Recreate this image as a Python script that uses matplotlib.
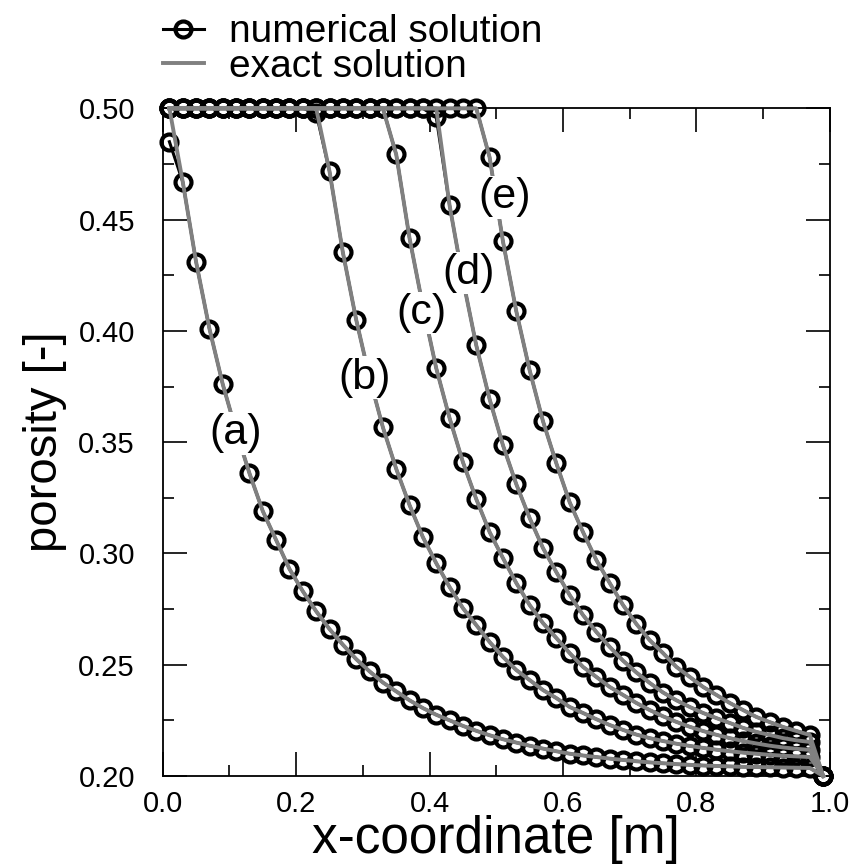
import matplotlib
matplotlib.use("Agg")
import matplotlib.pyplot as plt
from matplotlib.lines import Line2D
from matplotlib.ticker import MultipleLocator

plt.rcParams['font.family'] = ['Liberation Sans', 'DejaVu Sans']

## DATA

x_nodes = [0.01, 0.03, 0.05, 0.07, 0.09, 0.11, 0.13, 0.15, 0.17, 0.19,
           0.21, 0.23, 0.25, 0.27, 0.29, 0.31, 0.33, 0.35, 0.37, 0.39,
           0.41, 0.43, 0.45, 0.47, 0.49, 0.51, 0.53, 0.55, 0.57, 0.59,
           0.61, 0.63, 0.65, 0.67, 0.69, 0.71, 0.73, 0.75, 0.77, 0.79,
           0.81, 0.83, 0.85, 0.87, 0.89, 0.91, 0.93, 0.95, 0.97, 0.99]

num_a = [0.485, 0.467, 0.431, 0.401, 0.376, 0.355, 0.336, 0.319, 0.306, 0.293,
         0.283, 0.274, 0.266, 0.259, 0.2525, 0.247, 0.242, 0.238, 0.234, 0.2305,
         0.2275, 0.2250, 0.2225, 0.2203, 0.2183, 0.2165, 0.2150, 0.2136, 0.2123, 0.2111,
         0.2100, 0.2092, 0.2085, 0.2078, 0.2072, 0.2066, 0.2061, 0.2057, 0.2053, 0.2050,
         0.2047, 0.2045, 0.2043, 0.2041, 0.2040, 0.2039, 0.2038, 0.2037, 0.2036, 0.2000]

num_b = [0.50] * 11 + [
         0.498, 0.4717, 0.4353, 0.405, 0.379, 0.3567, 0.338, 0.3217, 0.3073,
         0.2956, 0.2849, 0.2754, 0.2678, 0.2602, 0.2535, 0.2476, 0.2431, 0.2386, 0.2350,
         0.2310, 0.2283, 0.2255, 0.2229, 0.2207, 0.2186, 0.2170, 0.2157, 0.2145, 0.2135,
         0.2126, 0.2118, 0.2111, 0.2105, 0.2100, 0.2095, 0.2091, 0.2088, 0.2085, 0.2000]

num_c = [0.50] * 17 + [
         0.4793, 0.4416, 0.411,
         0.3832, 0.3608, 0.341, 0.3244, 0.3096, 0.2979, 0.2867, 0.2768, 0.2687, 0.2620,
         0.2552, 0.2490, 0.2445, 0.2400, 0.2364, 0.2328, 0.2296, 0.2268, 0.2243, 0.2221,
         0.2202, 0.2185, 0.2170, 0.2157, 0.2146, 0.2136, 0.2128, 0.2122, 0.2117, 0.2000]

num_d = [0.50] * 20 + [
         0.496, 0.4564, 0.423, 0.3935, 0.3693, 0.3486, 0.3311, 0.3159, 0.3024, 0.2916,
         0.2813, 0.2723, 0.2647, 0.2580, 0.2518, 0.2465, 0.2418, 0.2375, 0.2340, 0.2310,
         0.2283, 0.2260, 0.2238, 0.2216, 0.2198, 0.2184, 0.2170, 0.2160, 0.2153, 0.2000]

num_e = [0.50] * 24 + [
         0.478, 0.4402, 0.4088, 0.3823, 0.3594, 0.3405,
         0.3230, 0.3096, 0.2970, 0.2867, 0.2768, 0.2683, 0.2610, 0.2552, 0.2490, 0.2445,
         0.2400, 0.2364, 0.2328, 0.2296, 0.2265, 0.2242, 0.2220, 0.2202, 0.2184, 0.2000]

# exact solution: same nodes, but stays at 0.5 until the front
front_idx = {"a": 0, "b": 11, "c": 16, "d": 20, "e": 23}

curve_labels = ["(a)", "(b)", "(c)", "(d)", "(e)"]
label_x = [0.109, 0.303, 0.388, 0.459, 0.513]
label_y = [0.354, 0.379, 0.408, 0.426, 0.460]

#%%
def exact_of(num, idx):
	ex = list(num)
	for i in range(idx + 1):
		ex[i] = 0.50
	return ex

fig = plt.figure(figsize=(8.52, 8.67), dpi=100)
ax = fig.add_axes([0.191, 0.105, 0.783, 0.770])

curves = {"a": num_a, "b": num_b, "c": num_c, "d": num_d, "e": num_e}
for key, num in curves.items():
	ax.plot(x_nodes, num, color="black", lw=2.2, marker="o", ms=11.5,
		mfc="none", mec="black", mew=3.0, zorder=2, clip_on=False)
for key, num in curves.items():
	ax.plot(x_nodes, exact_of(num, front_idx[key]), color="#808080",
		lw=2.8, zorder=3, clip_on=False)

for lab, lx, ly in zip(curve_labels, label_x, label_y):
	ax.text(lx, ly, lab, fontsize=31, ha="center", va="center", zorder=4,
		bbox=dict(facecolor="white", edgecolor="none", pad=1))

ax.set_xlim(0.0, 1.0)
ax.set_ylim(0.20, 0.50)
ax.xaxis.set_major_locator(MultipleLocator(0.2))
ax.xaxis.set_minor_locator(MultipleLocator(0.1))
ax.yaxis.set_major_locator(MultipleLocator(0.05))
ax.yaxis.set_minor_locator(MultipleLocator(0.025))
ax.xaxis.set_major_formatter(plt.FormatStrFormatter("%.1f"))
ax.yaxis.set_major_formatter(plt.FormatStrFormatter("%.2f"))
ax.tick_params(which="both", direction="in", top=True, right=True,
	labelsize=21, width=1.2)
ax.tick_params(axis="x", pad=10)
ax.tick_params(axis="y", pad=20)
ax.tick_params(which="major", length=17)
ax.tick_params(which="minor", length=8)
for sp in ax.spines.values():
	sp.set_linewidth(1.3)

ax.set_xlabel("x-coordinate [m]", fontsize=37, labelpad=-2)
ax.set_ylabel("porosity [-]", fontsize=34, labelpad=8)

handles = [
	Line2D([], [], color="black", lw=2.2, marker="o", ms=11.5, mfc="none", mew=3.0),
	Line2D([], [], color="#808080", lw=2.8),
]
fig.legend(handles, ["numerical solution", "exact solution"], loc="upper left",
	bbox_to_anchor=(0.1913, 0.9834), frameon=False, fontsize=28,
	handlelength=1.05, handletextpad=0.64, labelspacing=-0.04,
	borderpad=0, borderaxespad=0)

fig.savefig("out.png", dpi=100)
